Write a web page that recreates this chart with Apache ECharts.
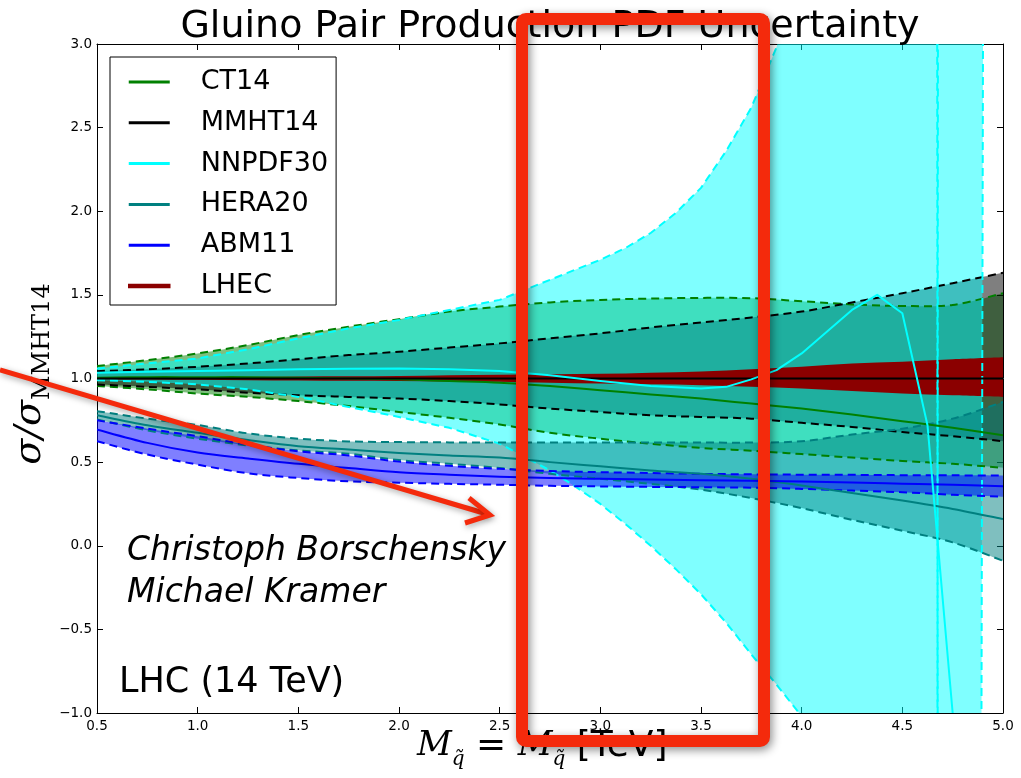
<!DOCTYPE html>
<html><head><meta charset="utf-8">
<script src="https://cdn.jsdelivr.net/npm/echarts@6/dist/echarts.min.js"></script>
<style>html,body{margin:0;padding:0;background:#fff}#c{width:1021px;height:778px}</style>
</head><body><div id="c"></div>
<script>
// ---- data ----
const xGrid = [0.5,0.75,1.0,1.25,1.5,1.75,2.0,2.25,2.5,2.75,3.0,3.25,3.5,3.75,4.0,4.25,4.5,4.75,5.0];

const ct14Mid = [1.005,1.008,1.008,1.008,1.005,1.0,0.995,0.985,0.975,0.955,0.93,0.905,0.88,0.85,0.82,0.785,0.745,0.705,0.66];
const ct14Up  = [1.074,1.11,1.15,1.20,1.26,1.31,1.355,1.40,1.43,1.455,1.47,1.478,1.482,1.48,1.462,1.443,1.434,1.44,1.51];
const ct14Lo  = [0.955,0.935,0.91,0.89,0.865,0.835,0.80,0.765,0.725,0.675,0.64,0.61,0.585,0.568,0.548,0.527,0.507,0.49,0.466];

const mmhtMid = [1,1,1,1,1,1,1,1,1,1,1,1,1,1,1,1,1,1,1];
const mmhtUp  = [1.044,1.055,1.07,1.09,1.115,1.14,1.16,1.185,1.21,1.24,1.27,1.305,1.335,1.365,1.40,1.455,1.51,1.57,1.632];
const mmhtLo  = [0.964,0.95,0.935,0.915,0.90,0.89,0.88,0.865,0.845,0.82,0.80,0.78,0.77,0.76,0.735,0.71,0.68,0.655,0.625];

const nnpdfX   = [0.5,0.75,1.0,1.25,1.5,1.75,2.0,2.25,2.5,2.625,2.75,2.875,3.0,3.125,3.25,3.375,3.5,3.625,3.75,3.875,4.0,4.125,4.25,4.5,4.67,4.68,4.88,4.91,5.0];
const nnpdfUp  = [1.06,1.09,1.12,1.175,1.24,1.30,1.35,1.41,1.47,1.53,1.59,1.65,1.71,1.78,1.87,1.99,2.14,2.36,2.62,2.98,3.6,4.5,6,8,8,-8,-8,8,8];
const nnpdfLo  = [0.99,0.98,0.965,0.935,0.89,0.83,0.77,0.705,0.61,0.53,0.45,0.355,0.25,0.13,0.0,-0.14,-0.29,-0.46,-0.65,-0.83,-1.02,-1.3,-1.6,-2.5,-8,8,8,8,8];
const nnpdfMidX = [0.5,0.75,1.0,1.25,1.5,1.75,2.0,2.25,2.5,2.75,3.0,3.25,3.5,3.625,3.75,3.875,4.0,4.125,4.25,4.375,4.5,4.625,4.75,4.8];
const nnpdfMid  = [1.035,1.04,1.045,1.05,1.055,1.058,1.06,1.055,1.045,1.02,0.985,0.955,0.94,0.95,0.995,1.05,1.15,1.28,1.41,1.50,1.39,0.72,-1.0,-1.5];

const heraMid = [0.78,0.72,0.675,0.632,0.595,0.575,0.555,0.54,0.527,0.50,0.475,0.45,0.43,0.40,0.36,0.315,0.27,0.22,0.16];
const heraUp  = [0.805,0.76,0.722,0.672,0.64,0.624,0.62,0.618,0.617,0.617,0.617,0.617,0.617,0.617,0.625,0.665,0.70,0.76,0.86];
const heraLo  = [0.755,0.69,0.64,0.60,0.57,0.55,0.512,0.49,0.465,0.43,0.40,0.37,0.335,0.285,0.225,0.155,0.09,0.02,-0.09];

const abmMid = [0.695,0.615,0.557,0.522,0.49,0.465,0.44,0.425,0.413,0.405,0.40,0.396,0.392,0.388,0.384,0.378,0.371,0.364,0.356];
const abmUp  = [0.75,0.70,0.655,0.605,0.565,0.54,0.503,0.478,0.46,0.447,0.44,0.435,0.43,0.427,0.425,0.424,0.422,0.421,0.42];
const abmLo  = [0.625,0.545,0.485,0.433,0.405,0.385,0.377,0.37,0.365,0.358,0.355,0.352,0.35,0.347,0.34,0.33,0.32,0.305,0.293];

const lhecUp = [1.004,1.006,1.008,1.01,1.012,1.013,1.015,1.02,1.022,1.025,1.028,1.035,1.042,1.055,1.07,1.09,1.10,1.115,1.127];
const lhecLo = [0.996,0.994,0.992,0.99,0.988,0.986,0.985,0.982,0.98,0.975,0.97,0.965,0.96,0.95,0.94,0.925,0.91,0.90,0.89];

const legendNames = ['CT14','MMHT14','NNPDF30','HERA20','ABM11','LHEC'];
const xTicks = {min:0.5, max:5.0, interval:0.5};
const yTicks = {min:-1.0, max:3.0, interval:0.5};

// ---- helpers: curves drawn through the chart's own coordinate system ----
function segs(pts, smooth) {
  let d = '';
  for (let i = 0; i < pts.length - 1; i++) {
    const p1 = pts[i], p2 = pts[i + 1];
    if (!smooth) { d += ' L' + p2[0] + ',' + p2[1]; continue; }
    const p0 = pts[Math.max(i - 1, 0)], p3 = pts[Math.min(i + 2, pts.length - 1)];
    const c1x = p1[0] + (p2[0] - p0[0]) / 6, c1y = p1[1] + (p2[1] - p0[1]) / 6;
    const c2x = p2[0] - (p3[0] - p1[0]) / 6, c2y = p2[1] - (p3[1] - p1[1]) / 6;
    d += ' C' + c1x + ',' + c1y + ' ' + c2x + ',' + c2y + ' ' + p2[0] + ',' + p2[1];
  }
  return d;
}
function clipOf(params) {
  const cs = params.coordSys;
  return {type:'rect', shape:{x:cs.x, y:cs.y, width:cs.width, height:cs.height}};
}
function band(name, xs, up, lo, fill, smooth) {
  return {
    type:'custom', name:name, silent:true, z:2, animation:false,
    data: xs.map((x,i)=>[x, lo[i], up[i]]),
    encode:{x:0, y:[1,2]},
    itemStyle:{color:fill},
    renderItem: function (params, api) {
      if (params.dataIndex !== 0) return null;
      const U = xs.map((x,i)=>api.coord([x, up[i]]));
      const L = xs.map((x,i)=>api.coord([x, lo[i]])).reverse();
      const d = 'M' + U[0][0] + ',' + U[0][1] + segs(U, smooth) +
                ' L' + L[0][0] + ',' + L[0][1] + segs(L, smooth) + ' Z';
      return {type:'path', shape:{pathData:d}, style:{fill:fill, stroke:null}, clipPath:clipOf(params)};
    }
  };
}
function line(name, xs, ys, color, dashed, smooth) {
  return {
    type:'custom', name:name, silent:true, z:3, animation:false,
    data: xs.map((x,i)=>[x, ys[i]]),
    encode:{x:0, y:1},
    itemStyle:{color:color},
    renderItem: function (params, api) {
      if (params.dataIndex !== 0) return null;
      const P = xs.map((x,i)=>api.coord([x, ys[i]]));
      const d = 'M' + P[0][0] + ',' + P[0][1] + segs(P, smooth);
      return {type:'path', shape:{pathData:d},
              style:{fill:null, stroke:color, lineWidth:2, lineDash: dashed ? [8,5] : null, lineJoin:'round'},
              clipPath:clipOf(params)};
    }
  };
}
const fmt = v => (v < 0 ? '\u2212' : '') + Math.abs(v).toFixed(1);

const series = [
  band('ct14_band', xGrid, ct14Up, ct14Lo, 'rgba(0,128,0,0.5)', true),
  band('mmht_band', xGrid, mmhtUp, mmhtLo, 'rgba(0,0,0,0.5)', true),
  band('nnpdf_band', nnpdfX, nnpdfUp, nnpdfLo, 'rgba(0,255,255,0.5)', false),
  band('hera_band', xGrid, heraUp, heraLo, 'rgba(0,128,128,0.5)', true),
  band('abm_band', xGrid, abmUp, abmLo, 'rgba(0,0,255,0.5)', true),
  band('LHEC', xGrid, lhecUp, lhecLo, '#8b0000', true),
  line('ct14_up', xGrid, ct14Up, '#008000', true, true),
  line('ct14_lo', xGrid, ct14Lo, '#008000', true, true),
  line('mmht_up', xGrid, mmhtUp, '#000000', true, true),
  line('mmht_lo', xGrid, mmhtLo, '#000000', true, true),
  line('nnpdf_up', nnpdfX, nnpdfUp, '#00ffff', true, false),
  line('nnpdf_lo', nnpdfX, nnpdfLo, '#00ffff', true, false),
  line('hera_up', xGrid, heraUp, '#008080', true, true),
  line('hera_lo', xGrid, heraLo, '#008080', true, true),
  line('abm_up', xGrid, abmUp, '#0000ff', true, true),
  line('abm_lo', xGrid, abmLo, '#0000ff', true, true),
  line('CT14', xGrid, ct14Mid, '#008000', false, true),
  line('HERA20', xGrid, heraMid, '#008080', false, true),
  line('ABM11', xGrid, abmMid, '#0000ff', false, true),
  line('MMHT14', xGrid, mmhtMid, '#000000', false, false),
  line('NNPDF30', nnpdfMidX, nnpdfMid, '#00ffff', false, false)
];

const legendColors = {CT14:'#008000', MMHT14:'#000000', NNPDF30:'#00ffff', HERA20:'#008080', ABM11:'#0000ff', LHEC:'#8b0000'};

const FONT = "'DejaVu Sans', sans-serif";
const SERIF = "'DejaVu Serif', serif";
const axLine = {show:true, onZero:false, lineStyle:{color:'#000', width:1}};
const axTick = {show:true, inside:true, length:6, lineStyle:{color:'#000'}};

const option = {
  animation: false,
  backgroundColor: '#ffffff',
  grid: {left:97, right:18, top:44, bottom:65, containLabel:false},
  xAxis: [
    {type:'value', min:xTicks.min, max:xTicks.max, interval:xTicks.interval, position:'bottom',
     axisLine:axLine, axisTick:axTick, splitLine:{show:false},
     axisLabel:{formatter:fmt, color:'#000', fontFamily:FONT, fontSize:13.5, margin:6}},
    {type:'value', min:xTicks.min, max:xTicks.max, interval:xTicks.interval, position:'top',
     axisLine:axLine, axisTick:axTick, splitLine:{show:false}, axisLabel:{show:false}}
  ],
  yAxis: [
    {type:'value', min:yTicks.min, max:yTicks.max, interval:yTicks.interval, position:'left',
     axisLine:axLine, axisTick:axTick, splitLine:{show:false},
     axisLabel:{formatter:fmt, color:'#000', fontFamily:FONT, fontSize:13.5, margin:5}},
    {type:'value', min:yTicks.min, max:yTicks.max, interval:yTicks.interval, position:'right',
     axisLine:axLine, axisTick:axTick, splitLine:{show:false}, axisLabel:{show:false}}
  ],
  legend: {
    orient:'vertical', left:110, top:57,
    padding:[10,8,4,18], itemGap:10.8, itemWidth:41, itemHeight:3,
    backgroundColor:'#ffffff', borderColor:'#000', borderWidth:1,
    selectedMode:false,
    textStyle:{fontFamily:FONT, fontSize:27, lineHeight:30, color:'#000', padding:[0,0,0,26]},
    data: legendNames.map(n => ({name:n, icon:'rect',
      itemStyle: n === 'LHEC' ? {color:legendColors[n], borderColor:legendColors[n], borderWidth:1.5, opacity:1}
                              : {color:legendColors[n], opacity:1}}))
  },
  series: series,
  graphic: [
    {type:'text', x:550, y:27, z:40, style:{text:'Gluino Pair Production PDF Uncertainty', font:"38px 'DejaVu Sans'", fill:'#000', align:'center', verticalAlign:'middle'}},
    {type:'text', x:127, y:551, z:40, style:{text:'Christoph Borschensky', font:"italic 33px 'DejaVu Sans'", fill:'#000', align:'left', verticalAlign:'middle'}},
    {type:'text', x:127, y:593, z:40, style:{text:'Michael Kramer', font:"italic 33px 'DejaVu Sans'", fill:'#000', align:'left', verticalAlign:'middle'}},
    {type:'text', x:119, y:683, z:40, style:{text:'LHC (14 TeV)', font:"35px 'DejaVu Sans'", fill:'#000', align:'left', verticalAlign:'middle'}},
    {type:'text', x:36, y:374, rotation:Math.PI/2, z:40, style:{
      text:'{a|\u03c3/\u03c3}{b|MMHT14}', align:'center', verticalAlign:'middle', fill:'#000',
      rich:{a:{fontFamily:SERIF, fontStyle:'italic', fontSize:38, lineHeight:38, padding:[0,0,6,0], verticalAlign:'bottom'},
            b:{fontFamily:SERIF, fontSize:24, lineHeight:24, verticalAlign:'bottom'}}}},
    {type:'text', x:417, y:752, z:40, style:{
      text:'{m|M}{s|q\u0303}{t| = }{m|M}{s|q\u0303}{t| [TeV]}', align:'left', verticalAlign:'middle', fill:'#000',
      rich:{m:{fontFamily:SERIF, fontStyle:'italic', fontSize:34, lineHeight:34, padding:[0,0,7,0], verticalAlign:'bottom'},
            s:{fontFamily:SERIF, fontStyle:'italic', fontSize:20, lineHeight:20, verticalAlign:'bottom'},
            t:{fontFamily:FONT, fontSize:36, lineHeight:36, padding:[0,0,5,0], verticalAlign:'bottom'}}}},
    {type:'line', z:90, shape:{x1:0, y1:370, x2:487, y2:514},
     style:{stroke:'#f42a0c', lineWidth:5, shadowBlur:6, shadowColor:'rgba(0,0,0,0.35)', shadowOffsetX:1, shadowOffsetY:2}},
    {type:'polyline', z:90, shape:{points:[[469,498],[490,515],[465,523]]},
     style:{stroke:'#f42a0c', fill:null, lineWidth:5, lineJoin:'miter', shadowBlur:6, shadowColor:'rgba(0,0,0,0.35)', shadowOffsetX:1, shadowOffsetY:2}},
    {type:'rect', z:100, shape:{x:522, y:19, width:242, height:722, r:4},
     style:{fill:null, stroke:'#f42a0c', lineWidth:12, shadowBlur:10, shadowColor:'rgba(0,0,0,0.45)', shadowOffsetX:2, shadowOffsetY:3}}
  ]
};
const chart = echarts.init(document.getElementById('c'), null, {renderer:'canvas'});
chart.setOption(option);
</script>
</body></html>
